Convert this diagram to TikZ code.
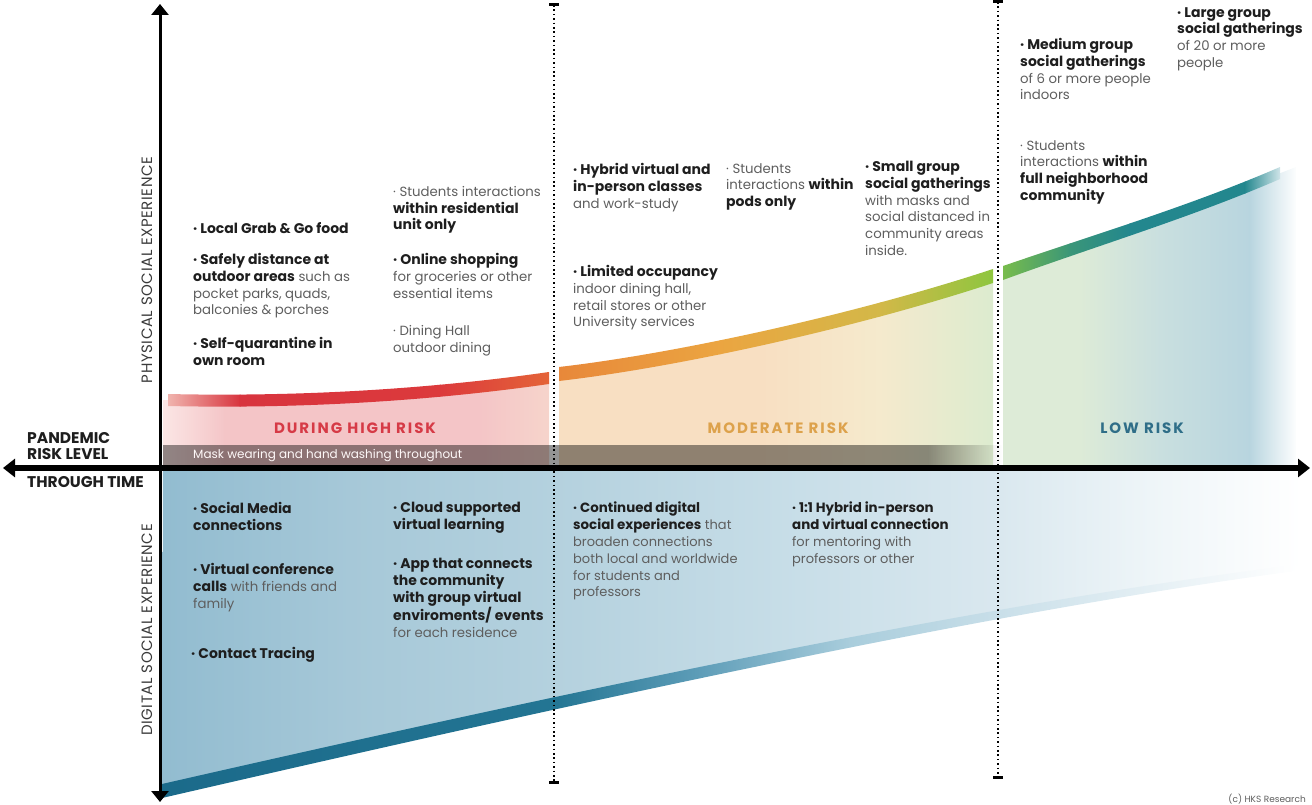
\documentclass[tikz,border=0pt]{standalone}
\usepackage{fontspec}
\setmainfont{Poppins}
\newfontfamily\riskfont[LetterSpace=13]{Poppins}
\newfontfamily\sidefont[LetterSpace=4]{Poppins}
\usetikzlibrary{arrows.meta,fadings}

\definecolor{inkdark}{HTML}{1E1E1E}
\definecolor{inkgray}{HTML}{5E5E5E}
\definecolor{axisgray}{HTML}{3A3A3A}
\definecolor{riskred}{HTML}{D63A46}
\definecolor{riskorange}{HTML}{DDA24C}
\definecolor{riskblue}{HTML}{2F6E88}
% curve colours
\definecolor{redA}{HTML}{F2BDB6}
\definecolor{redB}{HTML}{D8343E}
\definecolor{redC}{HTML}{DC3A3C}
\definecolor{redD}{HTML}{E46438}
\definecolor{modA}{HTML}{E8883A}
\definecolor{modB}{HTML}{EBA541}
\definecolor{modC}{HTML}{D3B848}
\definecolor{modD}{HTML}{8DC63F}
\definecolor{lowA}{HTML}{78BC4C}
\definecolor{lowB}{HTML}{3A9678}
\definecolor{lowC}{HTML}{23878E}
\definecolor{lowD}{HTML}{D6E8EC}
% fill colours
\definecolor{pinkA}{HTML}{FBE6E5}
\definecolor{pinkB}{HTML}{F4C5C7}
\definecolor{pinkC}{HTML}{F6D4CB}
\definecolor{peachA}{HTML}{F8DFC2}
\definecolor{peachB}{HTML}{F5EACD}
\definecolor{peachC}{HTML}{DCEBCF}
\definecolor{paleA}{HTML}{DDEBD7}
\definecolor{paleB}{HTML}{C9DFDF}
\definecolor{paleC}{HTML}{B8D5DF}
\definecolor{digA}{HTML}{92BCD0}
\definecolor{digB}{HTML}{A6C8D8}
\definecolor{digC}{HTML}{B4D1DE}
\definecolor{digD}{HTML}{C8DEE8}
\definecolor{digE}{HTML}{DAE8EF}
\definecolor{digF}{HTML}{EEF5F8}
\definecolor{lineA}{HTML}{1B6A8A}
\definecolor{lineB}{HTML}{237593}
\definecolor{lineC}{HTML}{5E9DB8}
\definecolor{lineD}{HTML}{A9CDDC}
\definecolor{lineE}{HTML}{C9DFE9}

\newcommand{\kwsize}{14}
\newcommand{\keyword}[1]{{\fontsize{\kwsize}{16.8}\selectfont\bfseries\color{inkdark}#1}}

\tikzset{
  note/.style={anchor=north west, align=left, inner sep=0pt, text=inkgray,
    font=\fontsize{13.3}{16.8}\selectfont},
  narrownote/.style={note, font={\renewcommand{\kwsize}{13.4}\fontsize{13}{16.8}\selectfont}},
  risklabel/.style={anchor=base, font=\riskfont\bfseries\fontsize{15}{17}\selectfont},
  sidelabel/.style={rotate=90, text=axisgray, font=\sidefont\fontsize{15}{17}\selectfont},
  timelabel/.style={anchor=north west, align=left, inner sep=0pt, text=inkdark,
    font=\bfseries\fontsize{15.5}{16.5}\selectfont},
  axisline/.style={line width=3pt, -{Triangle[width=17pt,length=11pt]}},
  timeline/.style={line width=5.5pt, -{Triangle[width=18pt,length=12pt]}},
  divider/.style={line width=1.6pt, dash pattern=on 1.6pt off 2.8pt},
  barcap/.style={fill=black, inner sep=0pt, minimum width=10pt, minimum height=3pt}
}

\begin{document}
\begin{tikzpicture}[x=1pt,y=-1pt]
    \useasboundingbox (0,0) rectangle (1312,805);

    % Digital side fill
    \begin{scope}
      \clip (163,471) -- (1300,471) -- (1300,566) .. controls (1000,604) and (600,690) .. (162,791) -- cycle;
      \foreach \xa/\ca/\xb/\cb in {163/digA/350/digB, 350/digB/553/digC, 553/digC/800/digD,
                                   800/digD/1000/digE, 1000/digE/1150/digF, 1150/digF/1301/white}
        \shade[left color=\ca, right color=\cb] (\xa-0.5,465) rectangle (\xb+0.5,800);
    \end{scope}

    % Physical side fills
    \begin{scope}
      \clip (163,466) -- (163,400) .. controls (300,403) and (430,395) .. (549,378) -- (549,466) -- cycle;
      \foreach \xa/\ca/\xb/\cb in {163/pinkA/225/pinkB, 225/pinkB/480/pinkB, 480/pinkB/549/pinkC}
        \shade[left color=\ca, right color=\cb] (\xa-0.5,360) rectangle (\xb+0.5,470);
    \end{scope}
    \begin{scope}
      \clip (559,466) -- (559,374) .. controls (680,360) and (860,320) .. (993,276) -- (993,466) -- cycle;
      \foreach \xa/\ca/\xb/\cb in {559/peachA/760/peachA, 760/peachA/880/peachB, 880/peachB/993/peachC}
        \shade[left color=\ca, right color=\cb] (\xa-0.5,260) rectangle (\xb+0.5,470);
    \end{scope}
    \begin{scope}
      \clip (1003,466) -- (1003,273) .. controls (1090,242) and (1190,212) .. (1278,174) -- (1296,167) -- (1296,466) -- cycle;
      \foreach \xa/\ca/\xb/\cb in {1003/paleA/1080/paleA, 1080/paleA/1160/paleB, 1160/paleB/1250/paleC, 1250/paleC/1297/white}
        \shade[left color=\ca, right color=\cb] (\xa-0.5,160) rectangle (\xb+0.5,470);
    \end{scope}

    % Mask band
    \fill[black, fill opacity=0.42] (163,445) rectangle (928,465);
    \fill[black, fill opacity=0.42, path fading=east] (928,445) rectangle (1002,465);
    \node[anchor=west, inner sep=0pt, text=white!88!pinkB, font=\fontsize{12}{14}\selectfont]
      (mask) at (193,456) {Mask wearing and hand washing throughout};

    % Curves
    \begin{scope}
      \clip (168,394) .. controls (300,397) and (430,389) .. (549,372) -- (549,384) .. controls (430,401) and (300,409) .. (168,406) -- cycle;
      \foreach \xa/\ca/\xb/\cb in {163/redA/240/redB, 240/redB/440/redC, 440/redC/550/redD}
        \shade[left color=\ca, right color=\cb] (\xa-0.5,360) rectangle (\xb+0.5,415);
    \end{scope}
    \begin{scope}
      \clip (559,367) .. controls (680,353) and (860,313) .. (993,269) -- (993,283) .. controls (860,327) and (680,367) .. (559,381) -- cycle;
      \foreach \xa/\ca/\xb/\cb in {559/modA/720/modB, 720/modB/880/modC, 880/modC/994/modD}
        \shade[left color=\ca, right color=\cb] (\xa-0.5,260) rectangle (\xb+0.5,390);
    \end{scope}
    \begin{scope}
      \clip (1003,266) .. controls (1090,236) and (1190,206) .. (1280,167) -- (1280,179) .. controls (1190,218) and (1090,248) .. (1003,280) -- cycle;
      \foreach \xa/\ca/\xb/\cb in {1003/lowA/1070/lowB, 1070/lowB/1130/lowC, 1130/lowC/1245/lowC, 1245/lowC/1281/lowD}
        \shade[left color=\ca, right color=\cb] (\xa-0.5,160) rectangle (\xb+0.5,290);
    \end{scope}
    \begin{scope}
      \clip (162,784) .. controls (600,684) and (1000,601) .. (1296,565) -- (1296,571) .. controls (1000,610) and (600,697) .. (162,798) -- cycle;
      \foreach \xa/\ca/\xb/\cb in {162/lineA/553/lineB, 553/lineB/700/lineC, 700/lineC/850/lineD,
                                   850/lineD/1000/lineE, 1000/lineE/1297/white}
        \shade[left color=\ca, right color=\cb] (\xa-0.5,555) rectangle (\xb+0.5,800);
    \end{scope}

    % Dividers
    \coordinate (d1t) at (554,5);
    \coordinate (d1b) at (554,782);
    \coordinate (d2t) at (998,2);
    \coordinate (d2b) at (998,777);
    \draw[divider] (d1t) -- (d1b);
    \draw[divider] (d2t) -- (d2b);
    \node[barcap] (cap1t) at (d1t) {};
    \node[barcap] (cap1b) at (d1b) {};
    \node[barcap] (cap2t) at (d2t) {};
    \node[barcap] (cap2b) at (d2b) {};

    % Axes
    \coordinate (O) at (160,468);
    \coordinate (up) at (160,4);
    \coordinate (down) at (160,802);
    \coordinate (past) at (3,468);
    \coordinate (future) at (1310,468);
    \draw[axisline] (O) -- (up);
    \draw[axisline] (O) -- (down);
    \draw[timeline] (O) -- (past);
    \draw[timeline] (O) -- (future);

    % Axis labels
    \node[sidelabel] (physical) at (147,270) {PHYSICAL SOCIAL EXPERIENCE};
    \node[sidelabel] (digital) at (147,630) {DIGITAL SOCIAL EXPERIENCE};
    \node[timelabel] (pandemic) at (27,432) {PANDEMIC\\RISK LEVEL};
    \node[timelabel] (through) at (27,476) {THROUGH TIME};

    % Risk levels
    \node[risklabel, text=riskred] (high) at (355,433) {DURING HIGH RISK};
    \node[risklabel, text=riskorange] (moderate) at (778,433) {MODERATE RISK};
    \node[risklabel, text=riskblue] (low) at (1142,433) {LOW RISK};

    % Physical notes
    \node[note] (grab) at (193,222) {\keyword{· Local Grab \& Go food}};
    \node[note] (safe) at (193,253) {\keyword{· Safely distance at}\\\keyword{outdoor areas} such as\\pocket parks, quads,\\balconies \& porches};
    \node[note] (quar) at (193,337) {\keyword{· Self-quarantine in}\\\keyword{own room}};
    \node[note] (unit) at (393,186) {· Students interactions\\\keyword{within residential}\\\keyword{unit only}};
    \node[note] (shop) at (393,253) {\keyword{· Online shopping}\\for groceries or other\\essential items};
    \node[note] (dine) at (393,325) {· Dining Hall\\outdoor dining};
    \node[note] (hybrid) at (573,163) {\keyword{· Hybrid virtual and}\\\keyword{in-person classes}\\and work-study};
    \node[note] (occup) at (573,265) {\keyword{· Limited occupancy}\\indoor dining hall,\\retail stores or other\\University services};
    \node[note] (pods) at (726,163) {· Students\\interactions \keyword{within}\\\keyword{pods only}};
    \node[note] (small) at (865,161) {\keyword{· Small group}\\\keyword{social gatherings}\\with masks and\\social distanced in\\community areas\\inside.};
    \node[note] (medium) at (1020,38) {\keyword{· Medium group}\\\keyword{social gatherings}\\of 6 or more people\\indoors};
    \node[note] (hood) at (1020,140) {· Students\\interactions \keyword{within}\\\keyword{full neighborhood}\\\keyword{community}};
    \node[note] (large) at (1177,7) {\keyword{· Large group}\\\keyword{social gatherings}\\of 20 or more\\people};

    % Digital notes
    \node[note] (media) at (193,502) {\keyword{· Social Media}\\\keyword{connections}};
    \node[note] (calls) at (193,563) {\keyword{· Virtual conference}\\\keyword{calls} with friends and\\family};
    \node[note] (tracing) at (191,647) {\keyword{· Contact Tracing}};
    \node[note] (cloud) at (393,502) {\keyword{· Cloud supported}\\\keyword{virtual learning}};
    \node[note] (app) at (393,558) {\keyword{· App that connects}\\\keyword{the community}\\\keyword{with group virtual}\\\keyword{enviroments/ events}\\for each residence};
    \node[narrownote] (continued) at (573,502) {\keyword{· Continued digital}\\\keyword{social experiences} that\\broaden connections\\both local and worldwide\\for students and\\professors};
    \node[narrownote] (mentor) at (792,502) {\keyword{· 1:1 Hybrid in-person}\\\keyword{and virtual connection}\\for mentoring with\\professors or other};

    \node[anchor=base east, inner sep=0pt, text=inkgray, font=\fontsize{9}{10}\selectfont]
      (credit) at (1306,802) {(c) HKS Research};
\end{tikzpicture}
\end{document}
